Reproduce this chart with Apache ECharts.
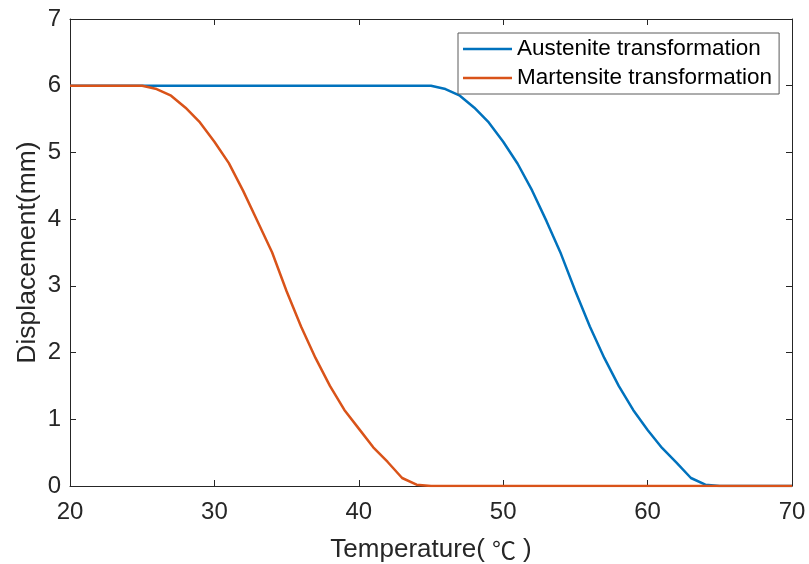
<!DOCTYPE html>
<html>
<head>
<meta charset="utf-8">
<script src="https://cdn.jsdelivr.net/npm/echarts@6/dist/echarts.min.js"></script>
<style>html,body{margin:0;padding:0;background:#fff;}#c{width:809px;height:564px;}</style>
</head>
<body>
<div id="c"></div>
<script>
var temps = [20,21,22,23,24,25,26,27,28,29,30,31,32,33,34,35,36,37,38,39,40,41,42,43,44,45,46,47,48,49,50,51,52,53,54,55,56,57,58,59,60,61,62,63,64,65,66,67,68,69,70];
var austenite = [6,6,6,6,6,6,6,6,6,6,6,6,6,6,6,6,6,6,6,6,6,6,6,6,6,6,5.95,5.85,5.67,5.45,5.16,4.83,4.43,3.97,3.48,2.92,2.39,1.92,1.5,1.14,0.84,0.57,0.35,0.12,0.02,0,0,0,0,0,0];
var martensite = [6,6,6,6,6,6,5.95,5.85,5.67,5.45,5.16,4.84,4.42,3.96,3.5,2.92,2.39,1.92,1.5,1.14,0.86,0.58,0.36,0.12,0.02,0,0,0,0,0,0,0,0,0,0,0,0,0,0,0,0,0,0,0,0,0,0,0,0,0,0];
var xTicks = [20,30,40,50,60,70];
var yTicks = [0,1,2,3,4,5,6,7];
var seriesNames = ['Austenite transformation','Martensite transformation'];

function pairs(ys){ return temps.map(function(t,i){ return [t, ys[i]]; }); }

var FONT = 'Arial, "Liberation Sans", Helvetica, sans-serif';
var AX = '#262626';
var chart = echarts.init(document.getElementById('c'), null, {renderer:'canvas'});
var axisCommon = {
  axisLine:{show:true, onZero:false, lineStyle:{color:AX, width:1}},
  axisTick:{show:true, inside:true, length:6, lineStyle:{color:AX, width:1}},
  splitLine:{show:false}
};
chart.setOption({
  animation:false,
  backgroundColor:'#fff',
  grid:{left:70, top:19, width:722, height:467, containLabel:false, outerBoundsMode:'none'},
  legend:{
    show:true, orient:'vertical', left:458, top:33,
    data:seriesNames, icon:'rect',
    itemWidth:49, itemHeight:2.5, itemGap:3,
    padding:[3,7,3,5],
    backgroundColor:'#fff', borderColor:'#5a5a5a', borderWidth:1, borderRadius:0,
    textStyle:{fontFamily:FONT, fontSize:22.5, color:'#000', lineHeight:26}
  },
  xAxis:[
    Object.assign({
      type:'value', min:xTicks[0], max:xTicks[xTicks.length-1], interval:10, position:'bottom',
      name:'{a|Temperature(}{b|℃}{a|)}', nameLocation:'middle', nameGap:51, nameMoveOverlap:false,
      nameTextStyle:{fontSize:26, color:AX, rich:{
        a:{fontFamily:FONT, fontSize:26, color:AX},
        b:{fontFamily:'"Noto Sans CJK SC"', fontSize:24, color:AX, padding:[0,7,0,7]}
      }},
      axisLabel:{fontFamily:FONT, fontSize:24, color:AX, margin:14}
    }, axisCommon),
    Object.assign({
      type:'value', min:xTicks[0], max:xTicks[xTicks.length-1], interval:10, position:'top',
      axisLabel:{show:false}
    }, axisCommon)
  ],
  yAxis:[
    Object.assign({
      type:'value', min:yTicks[0], max:yTicks[yTicks.length-1], interval:1, position:'left',
      name:'Displacement(mm)', nameLocation:'middle', nameGap:29, nameMoveOverlap:false,
      nameTextStyle:{fontFamily:FONT, fontSize:26.5, color:AX},
      axisLabel:{fontFamily:FONT, fontSize:24, color:AX, margin:9}
    }, axisCommon),
    Object.assign({
      type:'value', min:yTicks[0], max:yTicks[yTicks.length-1], interval:1, position:'right',
      axisLabel:{show:false}
    }, axisCommon)
  ],
  series:[
    {name:seriesNames[0], type:'line', data:pairs(austenite), symbol:'none', smooth:false,
     lineStyle:{color:'#0072BD', width:2.5}, itemStyle:{color:'#0072BD'}, z:2},
    {name:seriesNames[1], type:'line', data:pairs(martensite), symbol:'none', smooth:false,
     lineStyle:{color:'#D95319', width:2.5}, itemStyle:{color:'#D95319'}, z:3}
  ]
});
</script>
</body>
</html>
